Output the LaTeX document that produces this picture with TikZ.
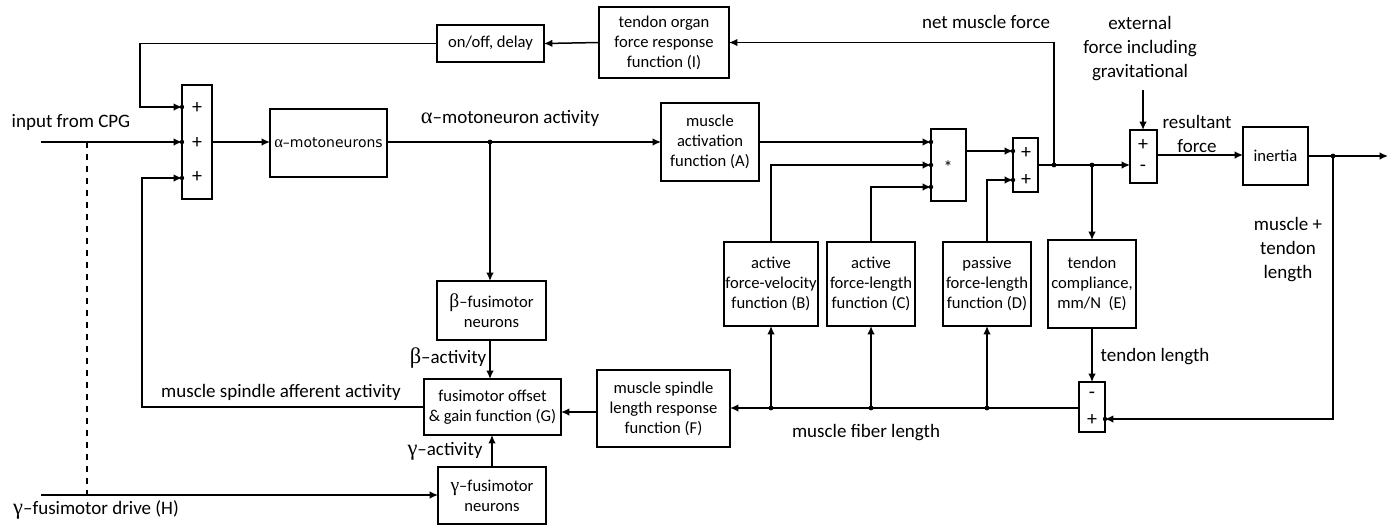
\documentclass[tikz,border=0pt]{standalone}
\usepackage{fontspec}
\setmainfont{Carlito}
\newfontfamily\grk[Scale=1.18]{Liberation Serif}
\newfontfamily\vsans{DejaVu Sans}
\usetikzlibrary{arrows.meta}

\begin{document}
\begin{tikzpicture}[x=0.5pt,y=-0.5pt,
  every node/.style={inner sep=0pt, outer sep=0pt},
  blk/.style={draw, line width=0.7pt, align=center, font=\fontsize{8.3}{10}\selectfont},
  sumbox/.style={draw, line width=0.7pt},
  lbl/.style={align=center, font=\fontsize{9.5}{12}\selectfont},
  sgn/.style={font=\fontsize{10}{12}\selectfont},
  wire/.style={line width=0.75pt},
  arr/.style={wire, -{Latex[length=4.2pt,width=3.8pt]}}
]
\useasboundingbox (0,0) rectangle (1390,526);

% ---- blocks ----
\node[blk, minimum width=53.5pt, minimum height=18.5pt] (onoff) at (490.5,43.5) {on/off, delay};
\node[blk, minimum width=65pt, minimum height=35.5pt] (tor) at (664,42.5) {tendon organ\\force response\\function (I)};
\node[blk, minimum width=58.5pt, minimum height=34pt, font=\vsans\fontsize{7}{9}\selectfont] (amn) at (328.5,143) {{\grk α}–motoneurons};
\node[blk, minimum width=49pt, minimum height=39pt] (mact) at (710,142) {muscle\\activation\\function (A)};
\node[sumbox, minimum width=15pt, minimum height=57pt] (s1) at (197,142) {};
\node[sumbox, minimum width=17.5pt, minimum height=36pt] (mult) at (948.5,165) {};
\node[sumbox, minimum width=12.5pt, minimum height=27pt] (s2) at (1025.5,165) {};
\node[sumbox, minimum width=13.5pt, minimum height=26.5pt] (s3) at (1143.5,156.5) {};
\node[blk, minimum width=32.5pt, minimum height=29pt] (inertia) at (1275.5,156) {inertia};
\node[blk, minimum width=47pt, minimum height=42pt] (B) at (771,284) {active\\force-velocity\\function (B)};
\node[blk, minimum width=44pt, minimum height=42pt] (C) at (871,284) {active\\force-length\\function (C)};
\node[blk, minimum width=44pt, minimum height=42pt] (D) at (987,284) {passive\\force-length\\function (D)};
\node[blk, minimum width=44pt, minimum height=44pt] (E) at (1092,284) {tendon\\compliance,\\mm/N\ \ (E)};
\node[blk, minimum width=54.5pt, minimum height=29.5pt] (beta) at (491.5,310.5) {{\grk β}–fusimotor\\neurons};
\node[blk, minimum width=68.5pt, minimum height=28pt] (G) at (492.5,407) {fusimotor offset\\\& gain function (G)};
\node[blk, minimum width=66.5pt, minimum height=38.5pt] (F) at (663.5,408.5) {muscle spindle\\length response\\function (F)};
\node[blk, minimum width=54pt, minimum height=28.5pt] (gamma) at (492,495.5) {{\grk γ}–fusimotor\\neurons};
\node[sumbox, minimum width=13pt, minimum height=25pt] (s4) at (1092,407) {};

% ---- signs inside the junction boxes ----
\node[sgn] at (197,108) {+};
\node[sgn] at (197,143) {+};
\node[sgn] at (197,177) {+};
\node[font=\fontsize{9}{10}\selectfont] at (948,167) {*};
\node[sgn] at (1026,153) {+};
\node[sgn] at (1026,180) {+};
\node[sgn] at (1143,145) {+};
\node[sgn] at (1143,168) {-};
\node[sgn] at (1092,395) {-};
\node[sgn] at (1092,420) {+};

% ---- branch points and free ends ----
\coordinate (j1) at (490,142);
\coordinate (jn) at (1054,165);
\coordinate (je) at (1092,165);
\coordinate (ji) at (1333,156);
\coordinate (jb) at (771,408);
\coordinate (jc) at (871,408);
\coordinate (jd) at (987,408);
\coordinate (cpg) at (41,142);
\coordinate (gin) at (41,495);
\coordinate (dtop) at (87,142);
\coordinate (dbot) at (87,495);
\coordinate (ext) at (1143,90);
\coordinate (out) at (1388,156);

% ---- connectors ----
\draw[arr] (jn) |- (tor.east);
\draw[arr] (tor.west) -- (onoff.east);
\draw[arr] (onoff.west) -| (140,107) -- (s1.west |- 0,107);
\draw[arr] (cpg) -- (s1.west |- cpg);
\draw[arr] (G.west) -| (142,178) -- (s1.west |- 0,178);
\draw[wire, dashed] (dtop) -- (dbot);
\draw[arr] (gin) -- (gamma.west |- gin);
\draw[arr] (s1.east) -- (s1.east -| amn.west);
\draw[arr] (amn.east |- j1) -- (mact.west |- j1);
\draw[arr] (j1) -- (j1 |- beta.north);
\draw[arr] (beta.south -| j1) -- (G.north -| j1);
\draw[arr] (gamma.north) -- (G.south -| gamma.north);
\draw[arr] (F.west |- 0,412) -- (G.east |- 0,412);
\draw[arr] (s4.west |- jb) -- (F.east |- jb);
\draw[arr] (jb) -- (B.south -| jb);
\draw[arr] (jc) -- (C.south -| jc);
\draw[arr] (jd) -- (D.south -| jd);
\draw[arr] (mact.east |- 0,142) -- (mult.west |- 0,142);
\draw[arr] (B.north) |- (mult.west |- 0,165);
\draw[arr] (C.north) |- (mult.west |- 0,187);
\draw[arr] (mult.east |- 0,151) -- (s2.west |- 0,151);
\draw[arr] (D.north) |- (s2.west |- 0,180);
\draw[arr] (s2.east) -- (s3.west |- s2.east);
\draw[arr] (je) -- (E.north);
\draw[arr] (E.south) -- (s4.north);
\draw[arr] (ext) -- (s3.north -| ext);
\draw[arr] (s3.east |- 0,155) -- (inertia.west |- 0,155);
\draw[arr] (inertia.east) -- (out);
\draw[arr] (ji) |- (s4.east |- 0,419);

% ---- dots ----
\foreach \p in {j1,jn,je,ji,jb,jc,jd} \fill (\p) circle (1.2pt);
\fill (s1.west |- 0,107) circle (1.1pt);
\fill (s1.west |- 0,142) circle (1.1pt);
\fill (s1.west |- 0,178) circle (1.1pt);
\fill (mult.west |- 0,142) circle (1.1pt);
\fill (mult.west |- 0,165) circle (1.1pt);
\fill (mult.west |- 0,187) circle (1.1pt);
\fill (s2.west |- 0,151) circle (1.1pt);
\fill (s2.west |- 0,180) circle (1.1pt);
\fill (s4.east |- 0,419) circle (1.1pt);

% ---- labels ----
\node[lbl] (lcpg) at (71,122) {input from CPG};
\node[lbl] (lamn) at (510,118) {{\grk α}–motoneuron activity};
\node[lbl] (lnet) at (986,22) {net muscle force};
\node[lbl] (lext) at (1140,49) {external\\force including\\gravitational};
\node[lbl] (lres) at (1197,134) {resultant\\force};
\node[lbl] (lmtl) at (1288,250) {muscle +\\tendon\\length};
\node[lbl] (lten) at (1155,357) {tendon length};
\node[lbl] (lfib) at (866,433) {muscle fiber length};
\node[lbl] (lbeta) at (448,358) {{\grk β}–activity};
\node[lbl] (laff) at (281,392) {muscle spindle afferent activity};
\node[lbl] (lgam) at (445,451) {{\grk γ}–activity};
\node[lbl] (ldrv) at (96,510) {{\grk γ}–fusimotor drive (H)};
\end{tikzpicture}
\end{document}
